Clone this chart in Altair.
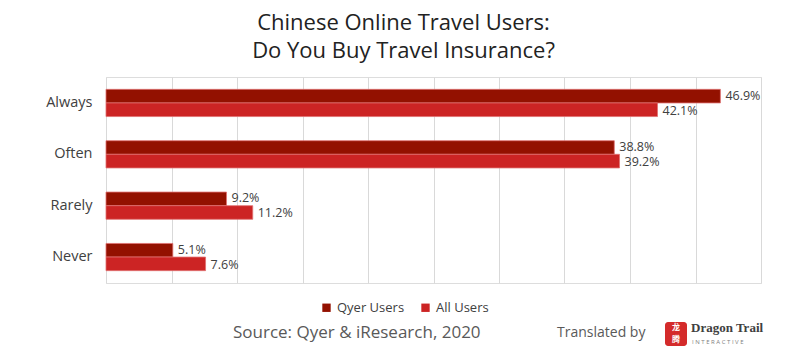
import altair as alt
import pandas as pd

categories = ["Always", "Often", "Rarely", "Never"]
series = ["Qyer Users", "All Users"]
qyer_values = [46.9, 38.8, 9.2, 5.1]
all_values = [42.1, 39.2, 11.2, 7.6]
x_ticks = [0, 5, 10, 15, 20, 25, 30, 35, 40, 45, 50]

rows = []
for c, q, a in zip(categories, qyer_values, all_values):
    rows.append({"cat": c, "series": series[0], "v": q, "lab": f"{q:.1f}%"})
    rows.append({"cat": c, "series": series[1], "v": a, "lab": f"{a:.1f}%"})
df = pd.DataFrame(rows)

FONT = "Open Sans"
TXT = "#404040"

y_enc = alt.Y("cat:N", sort=categories, title=None,
              scale=alt.Scale(paddingInner=0.47, paddingOuter=0.24),
              axis=alt.Axis(labelFontSize=14.5, labelColor=TXT, labelFont=FONT,
                            ticks=False, domain=False, labelPadding=14, grid=False))
x_enc = alt.X("v:Q", title=None, scale=alt.Scale(domain=[0, 50], nice=False),
              axis=alt.Axis(values=x_ticks, labels=False, ticks=False, domain=False,
                            grid=True, gridColor="#d9d9d9", gridWidth=1))
yoff = alt.YOffset("series:N", sort=series)

base = alt.Chart(df)

bars = base.mark_bar(stroke="#e07070", strokeWidth=0.8).encode(
    y=y_enc, x=x_enc, yOffset=yoff,
    color=alt.Color("series:N", sort=series,
                    scale=alt.Scale(domain=series, range=["#931100", "#cc2424"]),
                    legend=alt.Legend(title=None, orient="none", direction="horizontal",
                                      legendX=214, legendY=224, symbolType="square",
                                      symbolSize=70, labelFontSize=13, labelFont=FONT,
                                      labelColor=TXT, columnPadding=14, symbolStrokeWidth=0)),
)

labels_q = base.transform_filter(alt.datum.series == series[0]).mark_text(
    align="left", baseline="middle", dx=5, dy=-0.5, fontSize=12.5, font=FONT, color=TXT).encode(
    y=alt.Y("cat:N", sort=categories), x="v:Q", yOffset=yoff, text="lab:N")
labels_a = base.transform_filter(alt.datum.series == series[1]).mark_text(
    align="left", baseline="middle", dx=5, dy=1, fontSize=12.5, font=FONT, color=TXT).encode(
    y=alt.Y("cat:N", sort=categories), x="v:Q", yOffset=yoff, text="lab:N")

footer_df = pd.DataFrame([{"t": "Source: Qyer & iResearch, 2020"}])
source = alt.Chart(footer_df).mark_text(align="left", baseline="middle", fontSize=17,
                                        font=FONT, color="#595959").encode(
    x=alt.value(233 - 106), y=alt.value(333 - 77), text="t:N")

trans_df = pd.DataFrame([{"t": "Translated by"}])
trans = alt.Chart(trans_df).mark_text(align="left", baseline="middle", fontSize=14,
                                      font=FONT, color="#595959").encode(
    x=alt.value(557 - 106), y=alt.value(333 - 77), text="t:N")

logo_box = alt.Chart(trans_df).mark_rect(color="#d42b2b", cornerRadius=3).encode(
    x=alt.value(665 - 106), x2=alt.value(687 - 106),
    y=alt.value(322 - 77), y2=alt.value(346 - 77))

logo_df = pd.DataFrame([{"t": "龙"}])
logo_c1 = alt.Chart(logo_df).mark_text(fontSize=8, color="white",
                                       font="Noto Sans CJK SC", fontWeight="bold").encode(
    x=alt.value(676 - 106), y=alt.value(328 - 77), text="t:N")
logo_df2 = pd.DataFrame([{"t": "腾"}])
logo_c2 = alt.Chart(logo_df2).mark_text(fontSize=8, color="white",
                                        font="Noto Sans CJK SC", fontWeight="bold").encode(
    x=alt.value(676 - 106), y=alt.value(340 - 77), text="t:N")

dt_df = pd.DataFrame([{"t": "Dragon Trail"}])
dt = alt.Chart(dt_df).mark_text(align="left", baseline="middle", fontSize=13,
                                font="Liberation Serif", fontWeight="bold", color="#404040").encode(
    x=alt.value(691 - 106), y=alt.value(328 - 77), text="t:N")
ia_df = pd.DataFrame([{"t": "I N T E R A C T I V E"}])
ia = alt.Chart(ia_df).mark_text(align="left", baseline="middle", fontSize=6,
                                font=FONT, color="#808080").encode(
    x=alt.value(692 - 106), y=alt.value(342 - 77), text="t:N")

chart = alt.layer(bars, labels_q, labels_a, source, trans, logo_box, logo_c1, logo_c2, dt, ia).properties(
    width=655, height=206,
    title=alt.TitleParams(["Chinese Online Travel Users:", "Do You Buy Travel Insurance?"],
                          fontSize=22, font=FONT, fontWeight="normal", color="#222222",
                          anchor="middle", dx=-30, offset=14, lineHeight=28),
    autosize=alt.AutoSizeParams(type="none"),
    padding={"left": 106, "top": 77, "right": 39, "bottom": 70},
).configure_view(stroke=None).configure(background="white")

chart.save("out.html", embed_options={"renderer": "svg", "actions": False})
